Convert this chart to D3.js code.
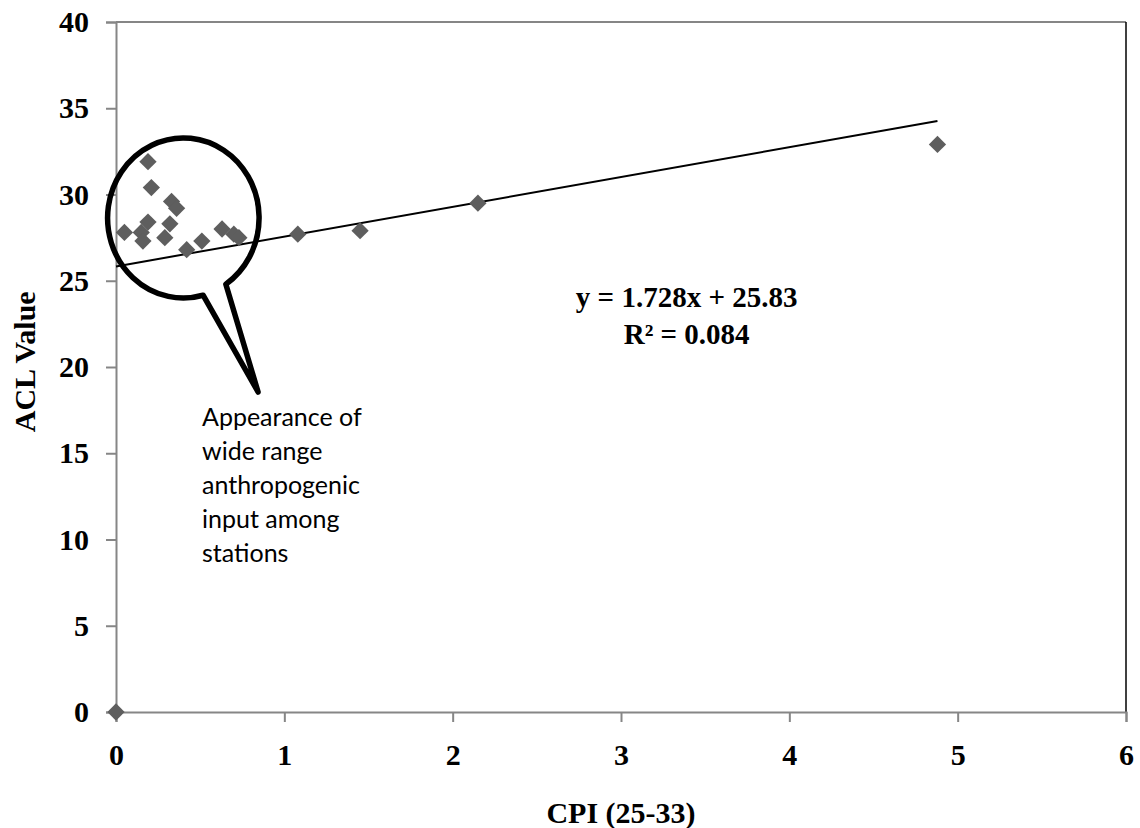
<!DOCTYPE html>
<html>
<head>
<meta charset="utf-8">
<script src="https://cdn.jsdelivr.net/npm/d3@7"></script>
<style>
  body { margin: 0; background: #fff; }
  svg { display: block; }
</style>
</head>
<body>
<div id="chart"></div>
<script>
// data
const cpi = [0, 0.05, 0.15, 0.16, 0.19, 0.19, 0.21, 0.29, 0.32, 0.33, 0.36, 0.42, 0.51, 0.63, 0.70, 0.73, 1.08, 1.45, 2.15, 4.88]
const acl = [0, 27.8, 27.8, 27.3, 28.4, 31.9, 30.4, 27.5, 28.3, 29.6, 29.2, 26.8, 27.3, 28.0, 27.7, 27.5, 27.7, 27.9, 29.5, 32.9]
const xTicks = [0, 1, 2, 3, 4, 5, 6]
const yTicks = [0, 5, 10, 15, 20, 25, 30, 35, 40]
const slope = 1.728
const intercept = 25.83
const noteLines = ["Appearance of", "wide range", "anthropogenic", "input among", "stations"]

const width = 1140, height = 828
const margin = {top: 22, right: 14, bottom: 116, left: 116}

const svg = d3.select("#chart")
  .append("svg")
    .attr("width", width)
    .attr("height", height)

const x = d3.scaleLinear().domain([0, 6]).range([margin.left, width - margin.right])
const y = d3.scaleLinear().domain([0, 40]).range([height - margin.bottom, margin.top])

const axisColor = "#868686"
const serif = "'Liberation Serif', 'Times New Roman', serif"

// plot frame: top gray, right black
svg.append("line")
    .attr("x1", x(0)).attr("x2", x(6))
    .attr("y1", y(40)).attr("y2", y(40))
    .style("stroke", axisColor).style("stroke-width", 2)
svg.append("line")
    .attr("x1", x(6)).attr("x2", x(6))
    .attr("y1", y(40)).attr("y2", y(0))
    .style("stroke", "#000").style("stroke-width", 1.5)

// axes
const gx = svg.append("g")
    .attr("transform", `translate(0,${y(0)})`)
    .call(d3.axisBottom(x).tickValues(xTicks).tickSize(10).tickPadding(22).tickFormat(d3.format("d")))
const gy = svg.append("g")
    .attr("transform", `translate(${x(0)},0)`)
    .call(d3.axisLeft(y).tickValues(yTicks).tickSize(10).tickPadding(17).tickFormat(d3.format("d")))

for (const g of [gx, gy]) {
  g.select(".domain").style("stroke", axisColor).style("stroke-width", 2)
  g.selectAll(".tick line").style("stroke", axisColor).style("stroke-width", 2)
  g.selectAll(".tick text")
    .style("font-family", serif)
    .style("font-weight", "bold")
    .style("font-size", "30px")
    .style("fill", "#000")
}

// axis titles
svg.append("text")
    .attr("x", x(3))
    .attr("y", 823)
    .attr("text-anchor", "middle")
    .style("font-family", serif)
    .style("font-weight", "bold")
    .style("font-size", "30px")
    .text("CPI (25-33)")

svg.append("text")
    .attr("transform", `translate(35,${y(20.3)}) rotate(-90)`)
    .attr("text-anchor", "middle")
    .style("font-family", serif)
    .style("font-weight", "bold")
    .style("font-size", "30px")
    .text("ACL Value")

// trend line
const xMax = d3.max(cpi)
svg.append("line")
    .attr("x1", x(0)).attr("y1", y(intercept))
    .attr("x2", x(xMax)).attr("y2", y(intercept + slope * xMax))
    .style("stroke", "#000")
    .style("stroke-width", 2)

// points
const diamond = d3.symbol().type(d3.symbolDiamond2).size(190)
svg.append("g")
  .selectAll("path")
  .data(cpi.map((d, i) => [d, acl[i]]))
  .join("path")
    .attr("transform", d => `translate(${x(d[0])},${y(d[1])})`)
    .attr("d", diamond)
    .style("fill", "#5e5e5e")

// equation
const eqStyle = t => t
    .attr("text-anchor", "middle")
    .style("font-family", serif)
    .style("font-weight", "bold")
    .style("font-size", "29px")
svg.append("text")
    .attr("x", x(3.39))
    .attr("y", 307)
    .call(eqStyle)
    .text(`y = ${slope}x + ${intercept}`)
svg.append("text")
    .attr("x", x(3.39))
    .attr("y", 344)
    .call(eqStyle)
    .text("R\u00B2 = 0.084")

// callout bubble around the cluster
const cx = x(0.40), cy = y(28.64)
const rx = x(0.45) - x(0), ry = y(0) - y(4.64)
const a0 = 1.307, a1 = 0.975
const p0 = [cx + rx * Math.cos(a0), cy + ry * Math.sin(a0)]
const p1 = [cx + rx * Math.cos(a1), cy + ry * Math.sin(a1)]
const tip = [x(0.844), y(18.55)]
svg.append("path")
    .attr("d", `M${p1[0]},${p1[1]} A${rx},${ry} 0 1 0 ${p0[0]},${p0[1]} L${tip[0]},${tip[1]} Z`)
    .style("fill", "none")
    .style("stroke", "#000")
    .style("stroke-width", 5.5)
    .style("stroke-linejoin", "round")

// callout text
svg.append("text")
    .style("font-family", "Lato, 'Open Sans', sans-serif")
    .style("font-size", "25px")
    .style("fill", "#000")
  .selectAll("tspan")
  .data(noteLines)
  .join("tspan")
    .attr("x", 202)
    .attr("y", (d, i) => 426 + i * 34)
    .text(d => d)
</script>
</body>
</html>
